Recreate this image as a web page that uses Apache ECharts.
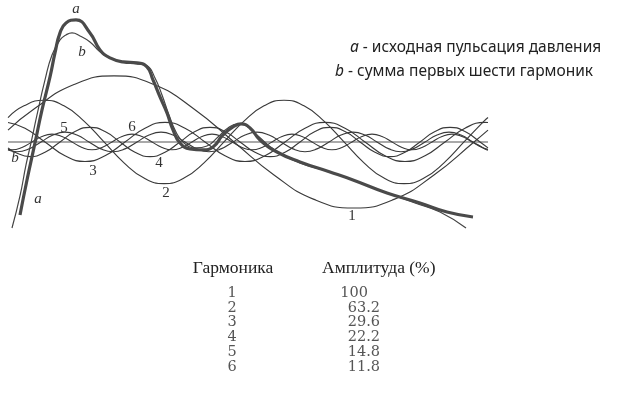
<!DOCTYPE html>
<html><head><meta charset="utf-8">
<script src="https://cdn.jsdelivr.net/npm/echarts@6/dist/echarts.min.js"></script>
<style>html,body{margin:0;padding:0;background:#fff}#c{width:630px;height:397px}</style>
</head><body><div id="c"></div>
<script>
// time (0..480 = one cycle) and pressure in % of first harmonic amplitude
const harmonicIds = ['1', '2', '3', '4', '5', '6'];
const amplitudes = ['100', '63.2', '29.6', '22.2', '14.8', '11.8'];
const legendLines = ['исходная пульсация давления', 'сумма первых шести гармоник'];
const baseline = [[0, 0], [480, 0]];

const curveA = [[12,-110.6],[19,-57.6],[27,-1.5],[34,48.5],[42,98.5],[47,134.8],[52,165.2],[58,180.3],[68,184.8],[82,165.2],[92,139.4],[102,127.3],[115,121.2],[129,119.7],[139,113.6],[145,93.9],[152,68.2],[159,43.9],[165,18.2],[172,-1.5],[182,-10.6],[195,-12.1],[205,-7.6],[215,10.6],[225,22.7],[233,27.3],[242,21.2],[252,3.0],[269,-15.2],[292,-30.3],[322,-45.5],[345,-57.6],[379,-77.3],[412,-92.4],[439,-106.1],[465,-113.6]];
const curveB = [[4,-130.3],[12,-81.8],[18,-34.8],[23,-1.5],[29,40.9],[37,93.9],[44,131.8],[52,154.5],[58,162.1],[64,165.2],[72,160.6],[82,151.5],[92,136.4],[102,127.3],[115,121.2],[129,118.2],[139,115.2],[147,97.0],[154,71.2],[161,40.9],[168,15.2],[176,-1.5],[188,-9.1],[199,-6.1],[210,7.6],[220,21.2],[230,27.3],[240,22.7],[250,9.1],[267,-12.1],[292,-31.8],[322,-45.5],[347,-59.1],[377,-75.8],[407,-92.4],[432,-106.1],[458,-130.3]];

const h1 = [[0,18],[26,50],[66,87],[106,100],[146,87],[186,50],[226,0],[266,-50],[306,-87],[346,-100],[386,-87],[426,-50],[466,0],[480,18]];
const h2 = [[0,37],[16,54.7],[36,63.2],[56,54.7],[76,31.6],[96,0],[116,-31.6],[136,-54.7],[156,-63.2],[176,-54.7],[196,-31.6],[216,0],[236,31.6],[256,54.7],[276,63.2],[296,54.7],[316,31.6],[336,0],[356,-31.6],[376,-54.7],[396,-63.2],[416,-54.7],[436,-31.6],[456,0],[476,31.6],[480,37]];
const h3 = [[0,29.5],[17,20.9],[37,0],[57,-20.9],[77,-29.6],[97,-20.9],[117,0],[137,20.9],[157,29.6],[177,20.9],[197,0],[217,-20.9],[237,-29.6],[257,-20.9],[277,0],[297,20.9],[317,29.6],[337,20.9],[357,0],[377,-20.9],[397,-29.6],[417,-20.9],[437,0],[457,20.9],[477,29.6],[480,29.5]];
const h4 = [[0,-9.0],[7,-15.7],[22,-22.2],[37,-15.7],[52,0],[67,15.7],[82,22.2],[97,15.7],[112,0],[127,-15.7],[142,-22.2],[157,-15.7],[172,0],[187,15.7],[202,22.2],[217,15.7],[232,0],[247,-15.7],[262,-22.2],[277,-15.7],[292,0],[307,15.7],[322,22.2],[337,15.7],[352,0],[367,-15.7],[382,-22.2],[397,-15.7],[412,0],[427,15.7],[442,22.2],[457,15.7],[472,0],[480,-9.0]];
const h5 = [[0,-12.3],[9,-14.8],[21,-10.5],[33,0],[45,10.5],[57,14.8],[69,10.5],[81,0],[93,-10.5],[105,-14.8],[117,-10.5],[129,0],[141,10.5],[153,14.8],[165,10.5],[177,0],[189,-10.5],[201,-14.8],[213,-10.5],[225,0],[237,10.5],[249,14.8],[261,10.5],[273,0],[285,-10.5],[297,-14.8],[309,-10.5],[321,0],[333,10.5],[345,14.8],[357,10.5],[369,0],[381,-10.5],[393,-14.8],[405,-10.5],[417,0],[429,10.5],[441,14.8],[453,10.5],[465,0],[477,-10.5],[480,-12.3]];
const h6 = [[0,-11.2],[4,-11.8],[14,-8.3],[24,0],[34,8.3],[44,11.8],[54,8.3],[64,0],[74,-8.3],[84,-11.8],[94,-8.3],[104,0],[114,8.3],[124,11.8],[134,8.3],[144,0],[154,-8.3],[164,-11.8],[174,-8.3],[184,0],[194,8.3],[204,11.8],[214,8.3],[224,0],[234,-8.3],[244,-11.8],[254,-8.3],[264,0],[274,8.3],[284,11.8],[294,8.3],[304,0],[314,-8.3],[324,-11.8],[334,-8.3],[344,0],[354,8.3],[364,11.8],[374,8.3],[384,0],[394,-8.3],[404,-11.8],[414,-8.3],[424,0],[434,8.3],[444,11.8],[454,8.3],[464,0],[474,-8.3],[480,-11.2]];

const harmonics = [h1, h2, h3, h4, h5, h6];

const chart = echarts.init(document.getElementById('c'), null, {renderer: 'canvas'});

function line(data, color, width, z) {
  return {type: 'line', data: data, smooth: 0.5, showSymbol: false, silent: true, z: z,
    lineStyle: {color: color, width: width}};
}

const series = [line(baseline, '#8c8c8c', 1.4, 1)];
harmonics.forEach(h => series.push(line(h, '#3a3a3a', 1.15, 2)));
series.push(line(curveB, '#444', 1.2, 3));
series.push(line(curveA, '#4a4a4a', 3.2, 4));

const serif = '"Liberation Serif", "DejaVu Serif", serif';
const numFont = '"DejaVu Serif", serif';
const sans = '"Noto Sans", sans-serif';
function t(x, y, text, font, fill, align, extra) {
  return Object.assign({type: 'text', x: x, y: y, silent: true,
    style: {text: text, font: font, fill: fill || '#333', textAlign: align || 'center', textVerticalAlign: 'middle'}}, extra || {});
}

const curveLabels = [
  t(76, 9, 'a', 'italic 15px ' + serif),
  t(82, 52, 'b', 'italic 15px ' + serif),
  t(15, 158, 'b', 'italic 15px ' + serif),
  t(38, 199, 'a', 'italic 15px ' + serif),
  t(352, 216, harmonicIds[0], '15px ' + serif),
  t(166, 193, harmonicIds[1], '15px ' + serif),
  t(93, 171, harmonicIds[2], '15px ' + serif),
  t(159, 163, harmonicIds[3], '15px ' + serif),
  t(64, 128, harmonicIds[4], '15px ' + serif),
  t(132, 127, harmonicIds[5], '15px ' + serif)
];

function legendText(x, y, key, txt) {
  return {type: 'text', x: x, y: y, silent: true, style: {text: '{i|' + key + '} - ' + txt, font: '15.5px ' + sans, fill: '#222', textVerticalAlign: 'middle',
    rich: {i: {font: 'italic 15.5px ' + sans, fill: '#222'}}}};
}
const legendEls = [legendText(350, 48, 'a', legendLines[0]), legendText(335, 72, 'b', legendLines[1])];

const tableEls = [
  t(233, 268, 'Гармоника', '17.5px ' + serif, '#222'),
  t(322, 268, 'Амплитуда (%)', '17.5px ' + serif, '#222', 'left')
];
harmonicIds.forEach((id, i) => {
  const y = 293 + i * 14.8;
  tableEls.push(t(232, y, id, '14.5px ' + numFont, '#555'));
  const v = amplitudes[i];
  const isInt = v.indexOf('.') < 0;
  tableEls.push(t(isInt ? 368 : 380, y, v, '14.5px ' + numFont, '#555', 'right'));
});

chart.setOption({
  animation: false,
  backgroundColor: '#fff',
  grid: {left: 8, top: 0, width: 480, height: 241, containLabel: false},
  xAxis: {type: 'value', min: 0, max: 480, show: false},
  yAxis: {type: 'value', min: -150, max: 215, show: false},
  series: series,
  graphic: curveLabels.concat(legendEls, tableEls)
});
</script>
</body></html>
